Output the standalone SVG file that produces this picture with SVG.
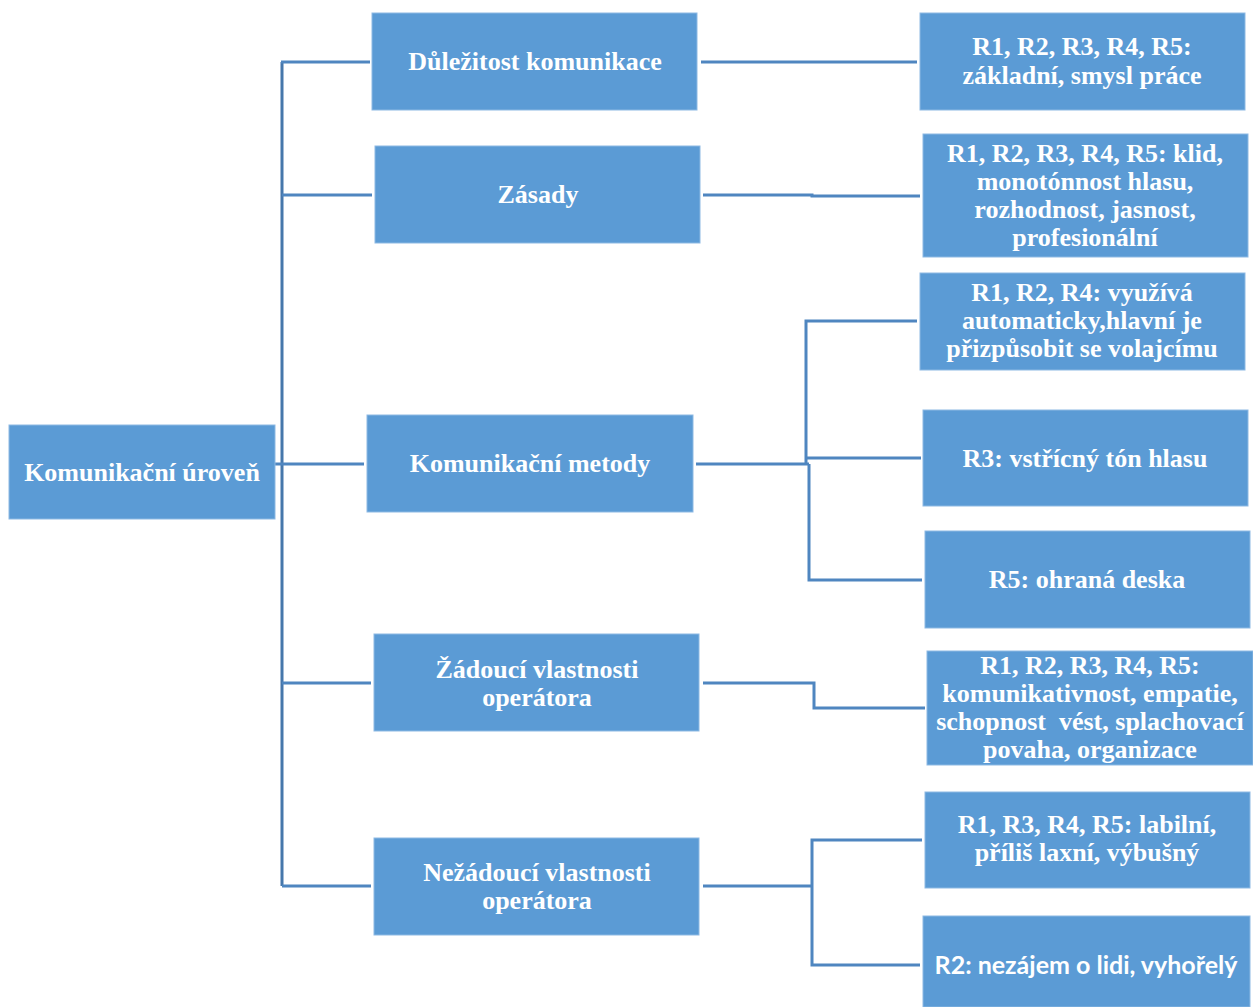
<svg xmlns="http://www.w3.org/2000/svg" width="1253" height="1007" viewBox="0 0 1253 1007">
  <style>
    .box { fill: #5B9BD5; stroke: #8DB9E3; stroke-width: 1; }
    .t { fill: #FFFFFF; font-family: "Liberation Serif", "Times New Roman", serif; font-weight: bold; font-size: 26px; text-anchor: middle; white-space: pre; }
    .s { fill: #FFFFFF; font-family: Lato, "Liberation Sans", sans-serif; font-weight: bold; font-size: 25px; text-anchor: middle; }
    .c { fill: none; stroke: #4F86C0; stroke-width: 3; }
    .trunk { fill: none; stroke: #4677AB; stroke-width: 3; }
  </style>

  <!-- connectors -->
  <g id="connectors">
    <path class="trunk" d="M282 62 V886"/>
    <path class="c" d="M275 464 H282"/>
    <path class="c" d="M281 62 H370"/>
    <path class="c" d="M282 195 H372"/>
    <path class="c" d="M282 464 H364"/>
    <path class="c" d="M282 683 H371"/>
    <path class="c" d="M282 886 H371"/>

    <path class="c" d="M701 62 H917"/>
    <path class="c" d="M703 195 H812 V196 H920"/>

    <path class="c" d="M696 464 H809"/>
    <path class="c" d="M917 321 H806 V464"/>
    <path class="c" d="M807 458 H921"/>
    <path class="c" d="M809 464 V580 H922"/>

    <path class="c" d="M703 683 H814 V708 H925"/>

    <path class="c" d="M703 886 H812"/>
    <path class="c" d="M922 840 H812 V965 H920"/>
  </g>

  <!-- root -->
  <g id="komunikacni-uroven">
    <rect class="box" x="9" y="425" width="266" height="94"/>
    <text class="t" x="142" y="481">Komunikační úroveň</text>
  </g>

  <!-- second level -->
  <g id="dulezitost">
    <rect class="box" x="372" y="13" width="325" height="97"/>
    <text class="t" x="535" y="70">Důležitost komunikace</text>
  </g>
  <g id="zasady">
    <rect class="box" x="375" y="146" width="325" height="97"/>
    <text class="t" x="538" y="203">Zásady</text>
  </g>
  <g id="metody">
    <rect class="box" x="367" y="415" width="326" height="97"/>
    <text class="t" x="530" y="472">Komunikační metody</text>
  </g>
  <g id="zadouci">
    <rect class="box" x="374" y="634" width="325" height="97"/>
    <text class="t" x="537" y="678">Žádoucí vlastnosti</text>
    <text class="t" x="537" y="706">operátora</text>
  </g>
  <g id="nezadouci">
    <rect class="box" x="374" y="838" width="325" height="97"/>
    <text class="t" x="537" y="881">Nežádoucí vlastnosti</text>
    <text class="t" x="537" y="909">operátora</text>
  </g>

  <!-- third level -->
  <g id="dulezitost-r">
    <rect class="box" x="920" y="13" width="325" height="97"/>
    <text class="t" x="1082" y="55">R1, R2, R3, R4, R5:</text>
    <text class="t" x="1082" y="84">základní, smysl práce</text>
  </g>
  <g id="zasady-r">
    <rect class="box" x="923" y="134" width="325" height="123"/>
    <text class="t" x="1085" y="162">R1, R2, R3, R4, R5: klid,</text>
    <text class="t" x="1085" y="190">monotónnost hlasu,</text>
    <text class="t" x="1085" y="218">rozhodnost, jasnost,</text>
    <text class="t" x="1085" y="246">profesionální</text>
  </g>
  <g id="metody-r124">
    <rect class="box" x="920" y="273" width="325" height="97"/>
    <text class="t" x="1082" y="301">R1, R2, R4: využívá</text>
    <text class="t" x="1082" y="329">automaticky,hlavní je</text>
    <text class="t" x="1082" y="357">přizpůsobit se volajcímu</text>
  </g>
  <g id="metody-r3">
    <rect class="box" x="923" y="410" width="325" height="96"/>
    <text class="t" x="1085" y="467">R3: vstřícný tón hlasu</text>
  </g>
  <g id="metody-r5">
    <rect class="box" x="925" y="531" width="325" height="97"/>
    <text class="t" x="1087" y="588">R5: ohraná deska</text>
  </g>
  <g id="zadouci-r">
    <rect class="box" x="927" y="651" width="326" height="114"/>
    <text class="t" x="1090" y="674">R1, R2, R3, R4, R5:</text>
    <text class="t" x="1090" y="702">komunikativnost, empatie,</text>
    <text class="t" x="1090" y="730">schopnost  vést, splachovací</text>
    <text class="t" x="1090" y="758">povaha, organizace</text>
  </g>
  <g id="nezadouci-r1345">
    <rect class="box" x="925" y="792" width="325" height="96"/>
    <text class="t" x="1087" y="833">R1, R3, R4, R5: labilní,</text>
    <text class="t" x="1087" y="861">příliš laxní, výbušný</text>
  </g>
  <g id="nezadouci-r2">
    <rect class="box" x="923" y="916" width="327" height="91"/>
    <text class="s" x="1086" y="974">R2: nezájem o lidi, vyhořelý</text>
  </g>
</svg>
